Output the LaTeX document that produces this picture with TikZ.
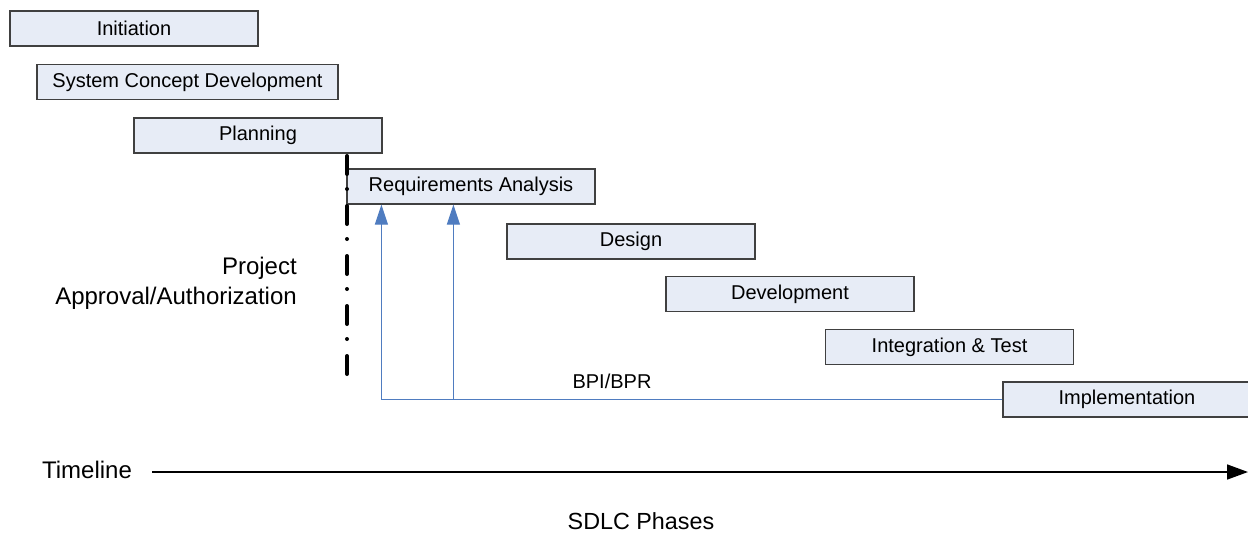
\documentclass[tikz,border=0pt]{standalone}
\usepackage{fontspec}
\setmainfont{Liberation Sans}
\usetikzlibrary{arrows.meta,calc}
\definecolor{phasefill}{RGB}{231,236,246}
\definecolor{phaseline}{RGB}{64,64,64}
\definecolor{flowblue}{RGB}{79,124,192}
\begin{document}
\begin{tikzpicture}[x=0.75pt,y=-0.75pt,
  phase/.style={draw=phaseline,line width=0.9pt,fill=phasefill,
    minimum width=186pt,minimum height=26.25pt,inner sep=0pt,
    font=\fontsize{15}{18}\selectfont},
  flow/.style={draw=flowblue,line width=0.9pt},
  flowtip/.style={-{Triangle[length=15pt,width=9.75pt]}},
  gate/.style={line width=3pt,line cap=round,
    dash pattern=on 13.5pt off 11.25pt on 0pt off 12.75pt},
  big/.style={font=\fontsize{18}{22.5}\selectfont},
  lbl/.style={font=\fontsize{15}{18}\selectfont}]
\useasboundingbox (0,0) rectangle (1248,533);

% SDLC phase boxes
\node[phase] (init) at (134,28.5) {Initiation};
\node[phase,minimum width=225.75pt] (scd) at (187.5,82) {System Concept Development};
\node[phase] (plan) at (258,135.5) {Planning};
\node[phase] (ra) at (471,186.5) {Requirements Analysis};
\node[phase] (des) at (631,241.5) {Design};
\node[phase] (dev) at (790,294) {Development};
\node[phase] (int) at (949.5,347) {Integration \& Test};
\node[phase] (impl) at (1127,399.5) {Implementation};

% project approval gate
\coordinate (g0) at (347,156);
\coordinate (g1) at (347,374);
\draw[gate] (g0) -- (g1);
\node[big,align=right,anchor=east,inner sep=0pt] (appr) at (297,283) {Project\\Approval/Authorization};

% BPI/BPR feedback to requirements
\path (ra.south west) ++(35,0) coordinate (t1);
\path (ra.south west) ++(107,0) coordinate (t2);
\draw[flow,flowtip] (impl.west) -| (t1);
\draw[flow,flowtip] (t2 |- impl.west) -- (t2);
\node[lbl] (bpi) at (612,381) {BPI/BPR};

% timeline
\node[big] (tl) at (87,470) {Timeline};
\coordinate (ts) at (152,472);
\coordinate (te) at (1248,472);
\draw[line width=1.2pt,-{Triangle[length=15.75pt,width=11.25pt]}] (ts) -- (te);
\node[font=\fontsize{17.5}{21}\selectfont,inner sep=0pt] (sdlc) at (641,521) {SDLC Phases};
\end{tikzpicture}
\end{document}
